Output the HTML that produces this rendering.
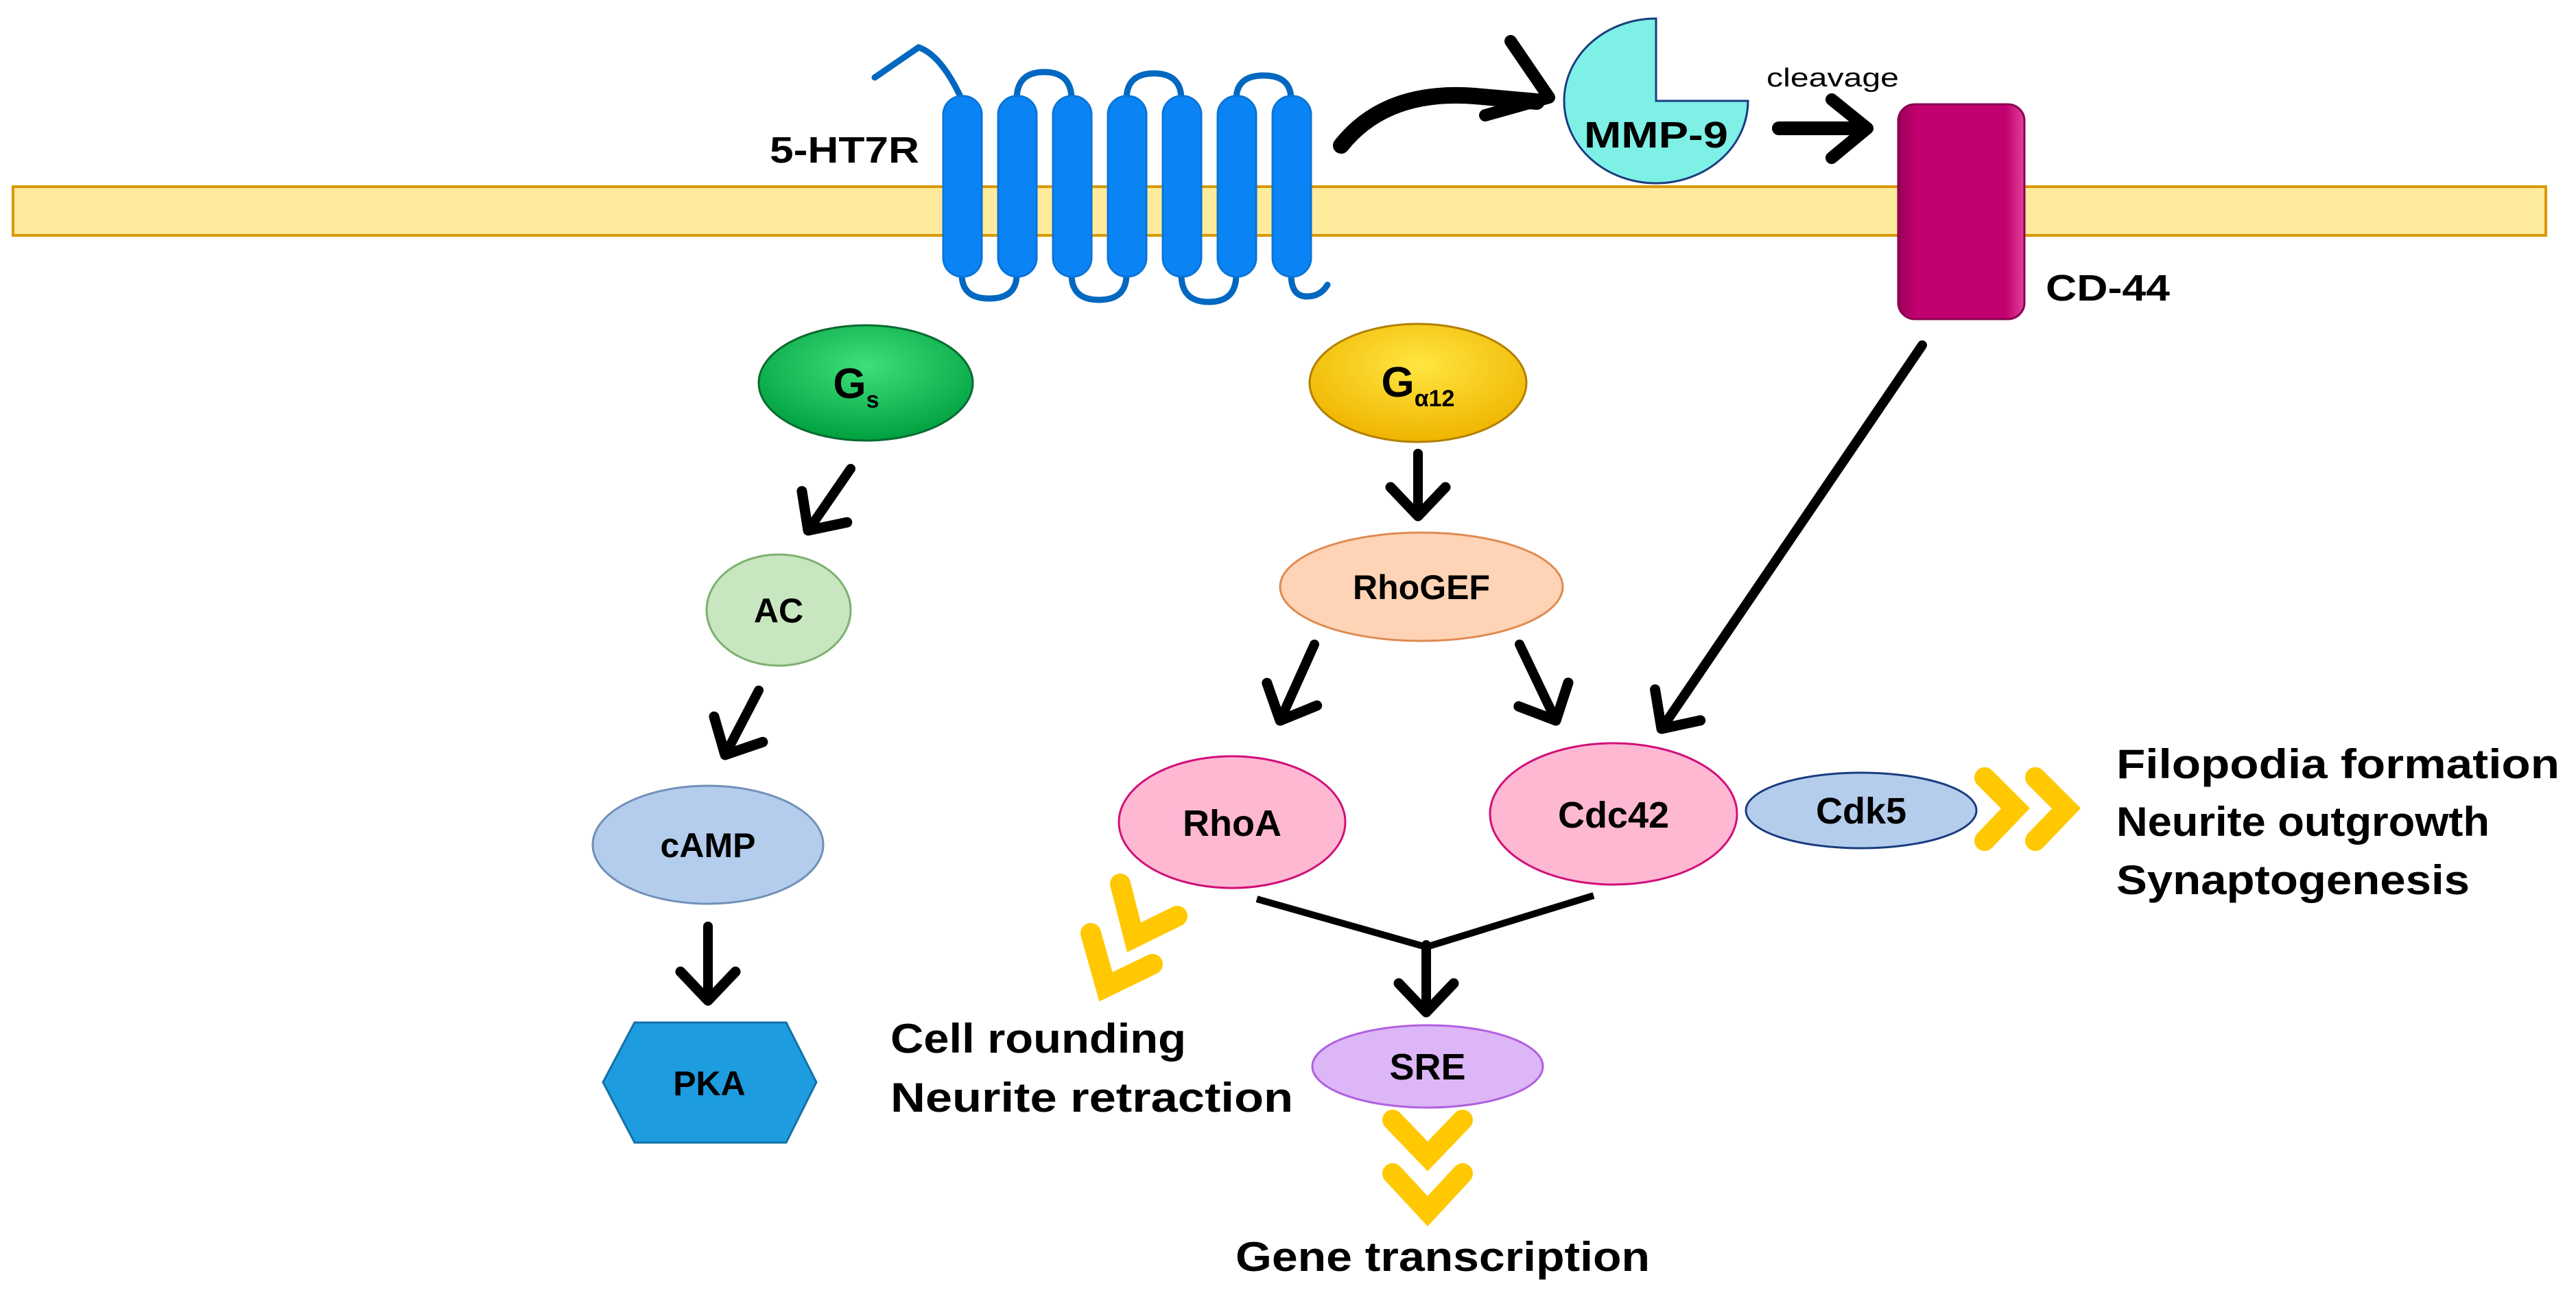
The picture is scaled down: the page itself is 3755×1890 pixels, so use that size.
<!DOCTYPE html>
<html><head><meta charset="utf-8"><style>
html,body{margin:0;padding:0;background:#fff}
svg{display:block}
text{font-family:"Liberation Sans",sans-serif;font-weight:bold;fill:#000}
</style></head><body>
<svg width="3755" height="1890" viewBox="0 0 3755 1890" xmlns="http://www.w3.org/2000/svg">
<defs>
<marker id="ah" markerUnits="userSpaceOnUse" markerWidth="120" markerHeight="120" refX="0" refY="0" viewBox="-60 -60 120 120" orient="auto" overflow="visible">
<path d="M-42,-40 L0,0 L-42,40" fill="none" stroke="#000" stroke-width="15" stroke-linecap="round" stroke-linejoin="round"/>
</marker>
<radialGradient id="gs" cx="50%" cy="35%" r="65%"><stop offset="0" stop-color="#3fe07a"/><stop offset="1" stop-color="#00a040"/></radialGradient>
<radialGradient id="gy" cx="50%" cy="35%" r="65%"><stop offset="0" stop-color="#ffe640"/><stop offset="1" stop-color="#f0b400"/></radialGradient>
<linearGradient id="cd" x1="0" x2="1"><stop offset="0" stop-color="#9a0058"/><stop offset="0.15" stop-color="#c2006f"/><stop offset="0.85" stop-color="#c2006f"/><stop offset="1" stop-color="#e0409a"/></linearGradient>
</defs>

<!-- membrane -->
<rect x="19" y="272" width="3692" height="71" fill="#ffeb9c" stroke="#d99a00" stroke-width="4"/>

<!-- receptor loops -->
<g fill="none" stroke="#0068c0" stroke-width="9" stroke-linecap="round">
<path d="M1275,113 L1339,69 Q1372,80 1402,145"/>
<path d="M1482,145 Q1482,105 1522,105 Q1562,105 1562,145"/>
<path d="M1642,145 Q1642,107 1682,107 Q1722,107 1722,145"/>
<path d="M1802,145 Q1802,110 1842,110 Q1882,110 1882,145"/>
<path d="M1402,400 Q1402,435 1442,435 Q1482,435 1482,400"/>
<path d="M1562,400 Q1562,437 1602,437 Q1642,437 1642,400"/>
<path d="M1722,400 Q1722,440 1762,440 Q1802,440 1802,400"/>
<path d="M1882,400 Q1882,432 1905,432 Q1925,432 1935,415"/>
</g>
<g fill="#0a84f5" stroke="#0a74d8" stroke-width="3">
<rect x="1375" y="140" width="56" height="263" rx="27"/>
<rect x="1455" y="140" width="56" height="263" rx="27"/>
<rect x="1535" y="140" width="56" height="263" rx="27"/>
<rect x="1615" y="140" width="56" height="263" rx="27"/>
<rect x="1695" y="140" width="56" height="263" rx="27"/>
<rect x="1775" y="140" width="56" height="263" rx="27"/>
<rect x="1855" y="140" width="56" height="263" rx="27"/>
</g>
<text x="1122" y="237" font-size="54" textLength="218" lengthAdjust="spacingAndGlyphs">5-HT7R</text>

<!-- curved arrow -->
<path d="M1955,212 Q2020,130 2150,140 L2240,148" fill="none" stroke="#000" stroke-width="24" stroke-linecap="round"/>
<path d="M2202,60 L2258,142 L2165,168" fill="none" stroke="#000" stroke-width="18" stroke-linecap="round" stroke-linejoin="round"/>

<!-- MMP-9 -->
<path d="M2414,147 L2548,147 A134,120 0 1 1 2414,27 Z" fill="#7ef0e6" stroke="#1a3d80" stroke-width="3"/>
<text x="2414" y="215" font-size="54" text-anchor="middle" textLength="210" lengthAdjust="spacingAndGlyphs">MMP-9</text>
<text x="2575" y="126" font-size="38" textLength="193" lengthAdjust="spacingAndGlyphs" style="font-weight:normal">cleavage</text>
<line x1="2593" y1="187" x2="2710" y2="187" stroke="#000" stroke-width="20" stroke-linecap="round"/>
<path d="M2670,145 L2722,187 L2670,230" fill="none" stroke="#000" stroke-width="18" stroke-linecap="round" stroke-linejoin="round"/>

<!-- CD-44 -->
<rect x="2767" y="152" width="184" height="313" rx="24" fill="url(#cd)" stroke="#8a0050" stroke-width="3"/>
<text x="2982" y="438" font-size="54" textLength="181" lengthAdjust="spacingAndGlyphs">CD-44</text>

<!-- arrows -->
<g stroke="#000" stroke-width="14" stroke-linecap="round" fill="none" marker-end="url(#ah)">
<line x1="1240" y1="683" x2="1178" y2="773"/>
<line x1="1106" y1="1006" x2="1057" y2="1100"/>
<line x1="1032" y1="1350" x2="1032" y2="1458"/>
<line x1="2067" y1="661" x2="2067" y2="752"/>
<line x1="1916" y1="939" x2="1866" y2="1050"/>
<line x1="2215" y1="939" x2="2268" y2="1050"/>
<line x1="2802" y1="503" x2="2422" y2="1062"/>
<line x1="2079" y1="1377" x2="2079" y2="1475"/>
</g>
<polyline points="1832,1310 2079,1380 2323,1305" fill="none" stroke="#000" stroke-width="10" stroke-linejoin="round"/>

<!-- Gs -->
<ellipse cx="1262" cy="558" rx="156" ry="84" fill="url(#gs)" stroke="#0a6a30" stroke-width="3"/>
<text x="1248" y="580" font-size="62" text-anchor="middle">G<tspan font-size="34" dy="14">s</tspan></text>
<!-- Ga12 -->
<ellipse cx="2067" cy="558" rx="158" ry="86" fill="url(#gy)" stroke="#b08000" stroke-width="3"/>
<text x="2067" y="578" font-size="62" text-anchor="middle">G<tspan font-size="34" dy="14">α12</tspan></text>

<!-- AC -->
<ellipse cx="1135" cy="889" rx="105" ry="81" fill="#c8e6c0" stroke="#7fb070" stroke-width="3"/>
<text x="1135" y="907" font-size="50" text-anchor="middle">AC</text>
<!-- cAMP -->
<ellipse cx="1032" cy="1231" rx="168" ry="86" fill="#b4cdec" stroke="#7090b8" stroke-width="3"/>
<text x="1032" y="1249" font-size="50" text-anchor="middle">cAMP</text>
<!-- PKA -->
<polygon points="879,1577 925,1490 1146,1490 1190,1577 1146,1665 925,1665" fill="#1e9ce0" stroke="#1570a8" stroke-width="3"/>
<text x="1034" y="1596" font-size="50" text-anchor="middle">PKA</text>

<!-- RhoGEF -->
<ellipse cx="2072" cy="855" rx="206" ry="79" fill="#ffd3b5" stroke="#e08a50" stroke-width="3"/>
<text x="2072" y="873" font-size="50" text-anchor="middle">RhoGEF</text>
<!-- RhoA -->
<ellipse cx="1796" cy="1198" rx="165" ry="96" fill="#ffb8d2" stroke="#d0107a" stroke-width="3"/>
<text x="1796" y="1218" font-size="54" text-anchor="middle">RhoA</text>
<!-- Cdc42 -->
<ellipse cx="2352" cy="1186" rx="180" ry="103" fill="#ffb8d2" stroke="#d0107a" stroke-width="3"/>
<text x="2352" y="1206" font-size="54" text-anchor="middle">Cdc42</text>
<!-- Cdk5 -->
<ellipse cx="2713" cy="1181" rx="168" ry="55" fill="#b4cdec" stroke="#1a3d80" stroke-width="3"/>
<text x="2713" y="1200" font-size="54" text-anchor="middle">Cdk5</text>
<!-- SRE -->
<ellipse cx="2081" cy="1554" rx="168" ry="60" fill="#dcb6f6" stroke="#b060e0" stroke-width="3"/>
<text x="2081" y="1573" font-size="54" text-anchor="middle">SRE</text>

<!-- yellow chevrons -->
<g fill="none" stroke="#ffc800" stroke-width="30" stroke-linecap="round" stroke-linejoin="miter">
<polyline points="2893,1133 2938,1178 2893,1225"/>
<polyline points="2967,1133 3012,1178 2967,1225"/>
<polyline points="2030,1632 2081,1685 2132,1632"/>
<polyline points="2030,1710 2081,1765 2132,1710"/>
<polyline points="1633,1288 1653,1366 1716,1335"/>
<polyline points="1590,1360 1612,1438 1680,1405"/>
</g>

<!-- outcome texts -->
<text x="3085" y="1134" font-size="60" textLength="646" lengthAdjust="spacingAndGlyphs">Filopodia formation</text>
<text x="3085" y="1218" font-size="60" textLength="544" lengthAdjust="spacingAndGlyphs">Neurite outgrowth</text>
<text x="3085" y="1303" font-size="60" textLength="515" lengthAdjust="spacingAndGlyphs">Synaptogenesis</text>
<text x="1298" y="1534" font-size="60" textLength="431" lengthAdjust="spacingAndGlyphs">Cell rounding</text>
<text x="1298" y="1620" font-size="60" textLength="587" lengthAdjust="spacingAndGlyphs">Neurite retraction</text>
<text x="1801" y="1852" font-size="60" textLength="604" lengthAdjust="spacingAndGlyphs">Gene transcription</text>
</svg>
</body></html>
